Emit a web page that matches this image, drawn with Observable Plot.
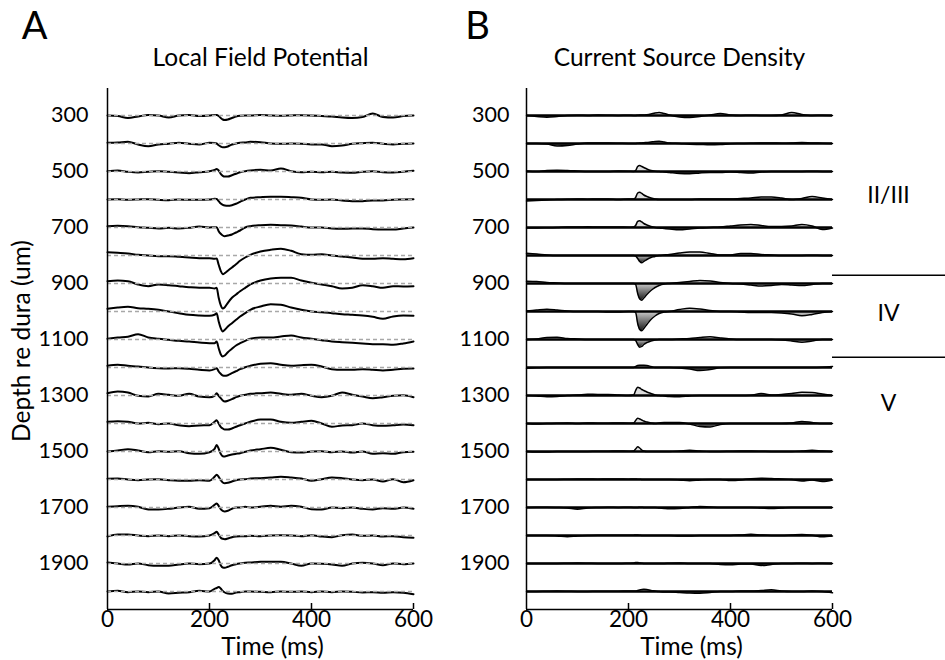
<!DOCTYPE html>
<html><head><meta charset="utf-8">
<script src="https://cdn.jsdelivr.net/npm/d3@7"></script>
<script src="https://cdn.jsdelivr.net/npm/@observablehq/plot@0.6"></script>
<style>
body{margin:0;background:#fff;}
#fig{position:relative;width:945px;height:660px;overflow:hidden;}
#fig svg{position:absolute;top:0;}
</style></head><body><div id="fig"></div>
<script>
// ---- data ----
const times = [0,20,40,60,80,100,120,140,160,180,200,210,214,218,222,226,230,236,244,252,260,270,280,300,320,340,360,380,400,420,440,460,480,500,520,540,560,580,600];
const depths = [300,400,500,600,700,800,900,1000,1100,1200,1300,1400,1500,1600,1700,1800,1900,2000];
const depthTicks = [300,500,700,900,1100,1300,1500,1700,1900];
const timeTicks = [0,200,400,600];

// LFP traces (amplitude, positive = upward deflection)
const LFP300 = [0,-0.5,-2.5,-1,0.5,0,-2,0,0.5,-0.5,0, 0.5,0.5,-0.5,-2.5,-4,-4.5,-4,-2.5,-1,-0.3,0,0, 0.5,0,-0.3,0,0.3,0,-0.5,-1,-2,-2.5,-1.5,2,-1.5,-2,-0.5,0];
const LFP400 = [0.7,1,1.7,-1,-2.7,-1,-0.3,0.7,-0.3,-1,0.7, 0.5,0,-1.7,-3,-3.7,-3.7,-3,-1,0,0.7,1,1.7, 1.3,0,-0.3,0,-0.3,-1,-1,-2.7,-2,-0.3,0.3,0.7,-0.3,-1,-0.3,0];
const LFP500 = [0.3,1,-0.3,-1,-0.3,0.3,-0.3,-1,-1.7,-0.7,0.3, 1.5,2.5,1,-2.3,-4.3,-5,-5,-3.7,-2.3,-0.7,0.3,1, 1.7,1,3,0.3,-0.7,-0.3,-0.7,-0.3,-1,-1.3,-0.3,0.3,-0.7,-1,-0.3,0.7];
const LFP600 = [0,0.3,-0.3,0,0.3,-0.3,-0.7,0,-0.3,-0.3,0, 0.7,0.5,-1.7,-4,-5.3,-6,-6.3,-5.7,-4.3,-2.3,0,1.7, 2.3,2.7,2.7,2.3,1.7,0,-0.3,0,-1,-1.7,-1.7,-1,-1,-0.3,0,0.3];
const LFP700 = [1.3,1.7,1.3,0.3,-0.3,-1,-0.3,-1,-0.3,1,0, 0.3,0.3,-3.7,-6.3,-8,-8.7,-8,-7,-5,-3,0,1.3, 2.3,2.7,2.3,2,1,0,0,-1,-1.3,-1,-1,-1.7,-2,-2,-1,0];
const LFP800 = [3.3,2.7,2,0.7,0,-0.7,-0.7,-1.3,-2,-2.7,-2.7, -3.3,-3,-9.3,-15.3,-18.7,-17.7,-15.3,-12,-8.7,-5.3,-2,0.7, 4,5.7,6.7,4.7,1.3,0.7,1.3,0,-1,-2,-3.3,-3.3,-2.7,-3.3,-3.7,-2.7];
const LFP900 = [2.3,3,2.3,-1,-2.7,-1,-1.7,-2.7,-3.7,-4.3,-4.3, -5,-4.3,-14.3,-21.7,-25,-23.7,-19.3,-14.3,-11,-7.7,-4.3,-1, 3,5,5.7,5.7,3,0.7,-1,-2.7,-5,-4.3,-1.7,-2.7,-4.3,-2.7,-3,-2.7];
const LFP1000 = [2.7,4,4.7,3.3,2.7,1.7,0,-1.7,-3.3,-4,-4.3, -3.3,-1.7,-10,-16.7,-20,-18.3,-15,-11.7,-8.3,-5,-1.7,1.7, 5,7.3,6.7,4,1.7,0,-0.7,-1.7,-2.7,-3.3,-4,-5.3,-7.3,-5,-4,-4.3];
const LFP1100 = [0.7,2,2.7,5.3,2,0.7,-0.3,-1.3,-2,-3,-3.7, -3.7,-2,-8.7,-14.7,-17,-16,-12.7,-9.3,-6,-3.7,-1.3,0.7, 2,2,3,4,2,0.7,-0.7,-2,-2.7,-3.3,-4,-4.7,-4.7,-5.3,-4,-2];
const LFP1200 = [1.7,2.7,1.7,1,0,-0.7,-1,-0.7,-1.3,-2.3,-3, -1.7,-0.7,-4,-6.3,-8,-8.3,-7.7,-5.7,-3.7,-1.7,0.3,1.7, 3.7,4.3,2.7,1.7,2.3,2.7,1,-1.7,-2.3,-2.3,-1.7,-2.3,-3,-2.3,-1.3,-1];
const LFP1300 = [2.3,4,3,-0.3,-1,1.7,0.7,-0.3,1.7,-1,-1.7, -0.3,2.3,-0.3,-2.7,-5,-6,-5.3,-3.7,-1.7,-0.3,0.7,1.7, 2.3,3,1.7,0.7,1.7,-0.3,-1.7,-0.3,3,0.7,-1,-2.7,-1.7,-0.3,0.3,-1.7];
const LFP1400 = [1.7,2.3,1.7,0,0.7,-0.7,0,-1.7,-2.7,-2,-1.7, 1.7,3.3,0,-3.3,-5,-6,-6,-5,-3.3,-1.7,0,1.7, 4,4,1.7,0.7,1.7,2.7,0,-3.3,-2,-1.7,0,-1.7,-2.3,-1.7,-1,-1.7];
const LFP1500 = [0,1,2.3,1,-0.7,0.3,-0.3,0.3,-1.7,-2.3,-0.7, 2.7,6.5,2.7,-2.3,-4.7,-5,-4,-3,-2.3,-1.7,-0.3,1, 2.3,3.7,1.7,-0.7,-1,0,0.3,-0.7,0,-1,0,-2.3,-1.7,-2.3,-0.7,-0.3];
const LFP1600 = [0.7,1,0,-0.7,0,0.3,-0.7,-1.3,-1.3,-0.7,-1.3, 2.7,4.7,2.7,-0.7,-3,-3.7,-3.3,-2,-0.7,0,0.3,1, 1.3,2,2.7,2,1,-1.3,0.3,2,1.3,0,-0.7,0,-2,0.3,-2.7,-0.7];
const LFP1700 = [0.7,1.3,1.7,0.7,-2,-2,-1.3,0,0.7,-1.3,-0.7, 2.7,4,1.7,-1.7,-3.3,-4,-3.3,-1.3,0,0,0.7,0, 0.7,1.7,0.7,1.7,0.7,-1.7,-2,0,-0.7,0,-1.3,-2,-0.7,-1.3,0,-1.3];
const LFP1800 = [-1,1,1,0,-0.7,0,-0.7,0,-0.7,-1,0, 2.3,3.7,1,-2.3,-3.3,-3.7,-3,-1.7,-1,-0.7,-0.7,-0.3, -0.7,0,0.3,0,-0.7,0.3,-1,-1.7,0.3,1,-0.3,0,-1,-0.7,-1.7,-2.3];
const LFP1900 = [1,0,-1,0,-1.7,-2.3,-2.3,-1,0,-0.7,0, 3.3,5.7,3.3,-1.7,-4,-4.3,-3.3,-1.7,-0.7,0,0.7,1, 1.7,1.7,1.7,0,-2.3,0,-0.3,-1,-2.3,0,0.7,0,-1.7,0,-0.7,0];
const LFP2000 = [0,0.7,-0.7,0,-0.7,0,-2,-1.3,-0.7,0.7,0, 2.7,3.5,4.5,3,0.5,-1,-2,-2.3,-1,-0.7,0,0, -0.3,-0.7,0,-0.3,0,-0.7,0,-0.7,0,-0.3,-1,-0.7,-1.3,-0.7,-1.3,-2.7];

// CSD traces (positive = source, negative = sink)
const CSD300 = [0,-1,-1.7,-1,0,0.3,0,0.5,0.3,0,0.3, 0,0,0.3,0.5,0.5,0.5,0.8,1.5,2.5,3,2,0.5, -1.5,-2,-1,0.5,2,0.5,0,0.3,0,0,0.5,3,1,0,0.3,0];
const CSD400 = [0,0,-0.5,-2.5,-2,-0.5,0.5,0.5,0.5,0.3,0, 0,0,0.3,0.5,0.5,0.8,1,1.5,2,2.3,1.5,0.5, 0,-0.7,-1,-1.3,-1,-0.3,0,0.3,0.5,0.5,0.3,0.5,1,0.5,0.3,0];
const CSD500 = [0.5,0,1,1.3,1,0.5,0,0,0,0.5,0.3, 0,1,5,6,5,4,2.5,1,0.3,0,-0.5,-1, -2,-2.3,-1.5,-1,-1,-0.5,-1,-1.5,-0.5,0,0,0,0,0.3,0,0];
const CSD600 = [-1.5,-1,-0.5,0,0.3,0.5,0.3,0.5,0.5,0,0.5, 0.5,2,6.5,7.3,6,4.5,3,1.5,0.5,0,0,0, 0,0,0.5,0.5,0.5,0.5,1,1.5,2.5,2.5,1.5,0,1,3,1.5,0];
const CSD700 = [-0.5,-0.5,-0.3,0,0.5,0.5,0.7,0.5,0.5,0.5,0.3, 0.5,2,6,6.7,5.5,4,2.5,1,0,-0.5,-1,-1.5, -2.3,-1.5,-0.5,0,0.5,1.5,2.5,3,2,1,1,1.5,3,1.5,-2,-0.5];
const CSD800 = [2.3,1.5,0.5,0,0,0,0,0,0,0,0, 0,-0.5,-3,-6,-7.3,-6,-4,-2,-1,0,0.5,1, 2.5,3.5,3.5,2,0.5,0.5,2,2,1,0.5,0,0,0,0.3,0,0];
const CSD900 = [2.3,2,1,0.5,0,0,0,0,0,0,0, 0,-1,-10,-15.5,-16.7,-14.5,-11,-7,-4,-2,-0.5,0, 1,2,3,2.5,1,0,-0.5,-1.5,-2.5,-2,-1,-1.5,-2,-1,0,0];
const CSD1000 = [0.5,1.5,2.3,1.5,0.5,0,0,0,-0.5,-0.5,0, 0,-1,-12,-18,-19.3,-17,-13,-8,-4.5,-2,-0.5,0, 2,3.3,2.5,1,0,0,-0.5,-1,-1,-1,-1.5,-2.5,-4.3,-3,-1,0];
const CSD1100 = [0,0.5,2,2.3,1,0.5,0,0,0,0,0, 0,-1,-5,-7.7,-7,-5,-3,-1.5,-0.5,0,0,0, 0.5,1,2,2.7,1.5,0.5,0,0,0,0,-0.5,-1.5,-2.7,-1.5,0,0];
const CSD1200 = [-0.7,-0.3,0,0,0,0,0,0,0,0,0, 0,1,2,2.3,2.3,2.3,2,1,0,0,0,0, -0.5,-1.5,-3,-2,-0.3,0,0,0,0,0,0,0,0,0,0.3,1];
const CSD1300 = [0,-0.5,-1.3,-1,0,0.5,1.3,1,1,0.5,0, 0.5,5,8.3,7.5,6,5,3.5,2,0.5,0,-0.5,-1, -1.3,-0.5,0,0,0,0,0,0.3,2,0.5,1,2,3.3,3,1.5,0];
const CSD1400 = [0,-0.5,0,0.3,0.5,0,0.5,0.3,0.3,0.5,0.3, 0.5,3,5.3,4.5,3.5,2.5,1.5,0.5,0,0.5,1,1, 1,-0.5,-3,-3.5,-1,0,0,0,0,0,0,0.5,2,1,0,0];
const CSD1500 = [0,-0.5,-0.5,0,0,0,0,0.3,0.3,0.5,0.3, 0.5,2.5,4.7,3.5,1.5,0.5,0,0,0,0,0,0, 0.5,1.3,0.5,0,0,0.3,0.5,0.5,0.3,0,0,0,0.5,1.3,0.5,0];
const CSD1600 = [0,0,0,0,0.3,0.5,0.5,0.3,0.5,0.5,0.3, 0.5,0.5,0.3,0.3,0,0,0,0,0,0,0,0, -0.5,-1.3,-0.5,0,0,-1,-0.5,0.8,1.3,1,0.5,0,-1.5,-0.5,-2,-0.5];
const CSD1700 = [0,0.3,0.3,0,-0.5,-1.7,-0.5,0,0.3,0,0.3, 0,0,0,0.3,0.3,0,0,0,0,-0.5,-1,-1.3, -1,0,1,0.5,0,0,0,0,-0.5,-1,-0.5,0,0,0,0,0];
const CSD1800 = [0,0,0,-0.5,-1.3,-0.5,0,0.3,0.3,0.3,0.3, 0.3,0.5,0.5,0.3,0,0,0,0,0,0,0,0, -0.5,-0.5,0,0,0,0,0.5,1.3,0.5,0,0,0.5,1,0.3,-1.3,-0.5];
const CSD1900 = [0,0,0,0,0.3,0.5,0.3,0,0,0,0.3, 0.5,1,1,0.5,0.3,0,0,0,0,0,0,0.3, 0.5,0,0,0,-1,-1.3,-0.5,-0.5,-2,-1,0,0,0.3,0,0.3,0];
const CSD2000 = [0,0,0.3,0.5,0.3,0,0,0.3,0.3,0.3,0.5, 0.5,0.5,1,1.5,2,2.3,2,1,0.5,0,-0.5,-0.5, -1,-1.5,-1.7,-1,0,0,0.5,0.5,1,1.7,0.5,0,0,0.5,0,-1.3];

const layerNames = ["II/III", "IV", "V"];
const layerLabelDepths = [586, 1007, 1329];
const layerBounds = [871, 1163];

// ---- build tables ----
const LFP = [LFP300,LFP400,LFP500,LFP600,LFP700,LFP800,LFP900,LFP1000,LFP1100,LFP1200,LFP1300,LFP1400,LFP1500,LFP1600,LFP1700,LFP1800,LFP1900,LFP2000];
const CSD = [CSD300,CSD400,CSD500,CSD600,CSD700,CSD800,CSD900,CSD1000,CSD1100,CSD1200,CSD1300,CSD1400,CSD1500,CSD1600,CSD1700,CSD1800,CSD1900,CSD2000];
const gain = 100 / 28; // depth units per amplitude unit
function table(traces) {
  const out = [];
  traces.forEach((tr, i) => tr.forEach((v, j) => out.push({depth: depths[i], t: times[j], v})));
  return out;
}
const lfpRows = table(LFP);
const csdRows = table(CSD);

const yDomain = [203.6, 2064.3];
const W_A = 470, W_B = 475, H = 660;
const mTop = 88, mBottom = 51;
const frameH = H - mTop - mBottom;
const font = "Lato, 'Open Sans', sans-serif";
const style = {fontFamily: font, fontSize: "22px", color: "black", background: "transparent", overflow: "visible"};
const TXT = 24.5;

function common(title, extra) {
  return [
    Plot.axisX({ticks: timeTicks, tickSize: 0, tickPadding: 2, tickFormat: d => String(d), label: null, fontSize: 22.5}),
    Plot.tickX(timeTicks.slice(1), {x: d => d, insetTop: frameH - 6, strokeWidth: 1.5}),
    Plot.ruleX([0], {strokeWidth: 1.5}),
    Plot.ruleY([yDomain[1]], {strokeWidth: 1.5}),
    Plot.text([title], {text: d => d, frameAnchor: "top", lineAnchor: "middle", textAnchor: "middle", dy: -30, fontSize: TXT}),
    Plot.text(["Time (ms)"], {text: d => d, frameAnchor: "bottom", lineAnchor: "middle", textAnchor: "middle", dx: 12, dy: 38, fontSize: TXT}),
    ...extra
  ];
}

const plotA = Plot.plot({
  width: W_A, height: H, marginLeft: 107, marginRight: 57, marginTop: mTop, marginBottom: mBottom,
  x: {domain: [0, 600]}, y: {domain: yDomain, reverse: true},
  style,
  marks: [
    Plot.axisY({ticks: depthTicks, tickSize: 0, tickPadding: 19, tickFormat: d => String(d), label: null, fontSize: 21.5}),
    Plot.line(lfpRows, {x: "t", y: d => d.depth - d.v * gain, z: "depth", stroke: "black", strokeWidth: 2, curve: "monotone-x"}),
    Plot.ruleY(depths, {x1: 0, x2: 600, stroke: "#a8a8a8", strokeDasharray: "4,3", strokeWidth: 1.5}),
    ...common("Local Field Potential", [
      Plot.text(["A"], {text: d => d, frameAnchor: "top-left", lineAnchor: "middle", textAnchor: "middle", dx: -73, dy: -62, fontSize: 38}),
      Plot.text(["Depth re dura (um)"], {text: d => d, frameAnchor: "left", lineAnchor: "middle", textAnchor: "middle", rotate: -90, dx: -85, dy: -8, fontSize: TXT})
    ])
  ]
});

const plotB = Plot.plot({
  width: W_B, height: H, marginLeft: 56, marginRight: 113, marginTop: mTop, marginBottom: mBottom,
  x: {domain: [0, 600]}, y: {domain: yDomain, reverse: true},
  style,
  marks: [
    Plot.axisY({ticks: depthTicks, tickSize: 0, tickPadding: 17, tickFormat: d => String(d), label: null, fontSize: 21.5}),
    Plot.areaY(csdRows, {x: "t", y1: "depth", y2: d => d.depth - Math.max(d.v, 0) * gain, z: "depth", fill: "#dcdcdc", curve: "monotone-x"}),
    Plot.areaY(csdRows, {x: "t", y1: "depth", y2: d => d.depth - Math.min(d.v, 0) * gain, z: "depth", fill: "url(#sinkGrad)", curve: "monotone-x"}),
    Plot.ruleY(depths, {x1: 0, x2: 600, stroke: "black", strokeWidth: 2.5}),
    Plot.line(csdRows, {x: "t", y: d => d.depth - d.v * gain, z: "depth", stroke: "black", strokeWidth: 1.5, curve: "monotone-x"}),
    Plot.ruleY(layerBounds, {y: d => d, insetLeft: 306, insetRight: -113, strokeWidth: 1.5}),
    Plot.text(layerNames, {text: d => d, y: (d, i) => layerLabelDepths[i], frameAnchor: "right", textAnchor: "middle", lineAnchor: "middle", dx: 56, fontSize: 23}),
    ...common("Current Source Density", [
      Plot.text(["B"], {text: d => d, frameAnchor: "top-left", lineAnchor: "middle", textAnchor: "middle", dx: -49, dy: -62, fontSize: 38})
    ])
  ]
});

const defs = d3.select(plotB).insert("defs", ":first-child");
const g = defs.append("linearGradient").attr("id", "sinkGrad").attr("x1", 0).attr("y1", 0).attr("x2", 0).attr("y2", 1);
g.append("stop").attr("offset", "0").attr("stop-color", "#d0d0d0");
g.append("stop").attr("offset", "1").attr("stop-color", "#1e1e1e");

plotA.style.left = "0px";
plotB.style.left = W_A + "px";
const fig = document.getElementById("fig");
fig.appendChild(plotA);
fig.appendChild(plotB);
</script>
</body></html>
